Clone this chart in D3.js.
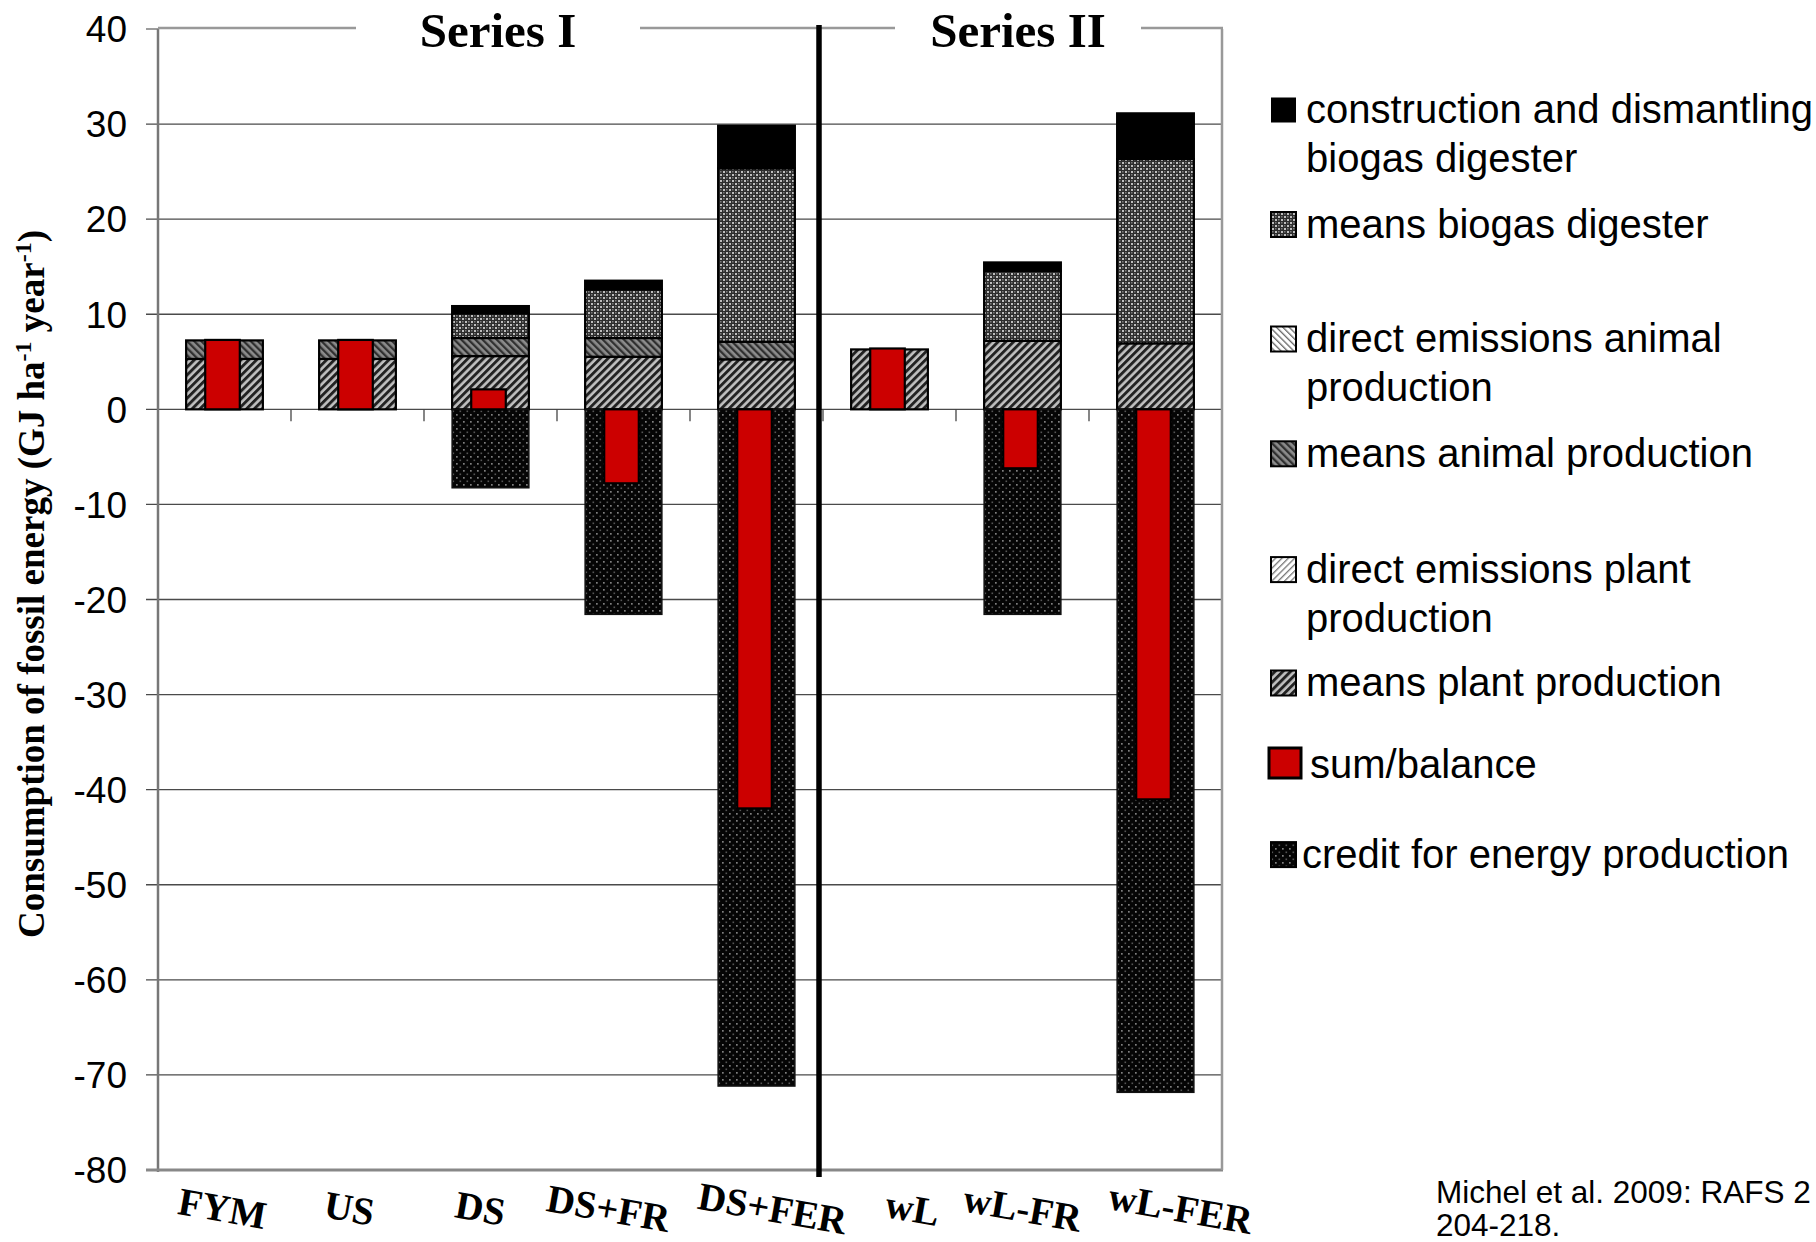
<!DOCTYPE html>
<html><head><meta charset="utf-8">
<script src="https://cdn.jsdelivr.net/npm/d3@7"></script>
<style>body{margin:0;background:#fff;} svg{display:block}</style>
</head><body><svg id="c" width="1816" height="1242"></svg>
<script>
// ---------- data ----------
const categories   = ["FYM","US","DS","DS+FR","DS+FER","wL","wL-FR","wL-FER"];
const meansPlant   = [5.3, 5.3, 5.6, 5.53, 5.26, 6.3, 7.2, 6.94];
const directPlant  = [0, 0, 0, 0, 0, 0, 0, 0];
const meansAnimal  = [1.95, 1.95, 1.9, 1.97, 1.85, 0, 0, 0];
const directAnimal = [0, 0, 0, 0, 0, 0, 0, 0];
const meansBiogas  = [0, 0, 2.6, 5.12, 18.24, 0, 7.37, 19.39];
const construction = [0, 0, 0.76, 0.91, 4.48, 0, 0.88, 4.8];
const credit       = [0, 0, -8.25, -21.56, -71.17, 0, -21.56, -71.83];
const sumBalance   = [7.3, 7.3, 2.1, -7.78, -41.97, 6.4, -6.2, -41.02];
const yTicks       = [-80,-70,-60,-50,-40,-30,-20,-10,0,10,20,30,40];
const seriesTitles = ["Series I", "Series II"];
const legendLabels = [
  ["construction and dismantling","biogas digester"],
  ["means biogas digester"],
  ["direct emissions animal","production"],
  ["means animal production"],
  ["direct emissions plant","production"],
  ["means plant production"],
  ["sum/balance"],
  ["credit for energy production"]
];
const sourceLines = ["Michel et al. 2009: RAFS 2", "204-218."];
const legendKeys = ["construction","meansBiogas","directAnimal","meansAnimal","directPlant","meansPlant","sum","credit"];
const stackKeys = ["meansPlant","directPlant","meansAnimal","directAnimal","meansBiogas","construction","credit"];

const table = categories.map((c,i)=>({cat:c, meansPlant:meansPlant[i], directPlant:directPlant[i],
  meansAnimal:meansAnimal[i], directAnimal:directAnimal[i], meansBiogas:meansBiogas[i],
  construction:construction[i], credit:credit[i], sum:sumBalance[i]}));

// ---------- layout ----------
const W=1816,H=1242;
const plotL=158, plotR=1222, plotT=29, plotB=1170;
const labelNudge=[-2,-8,-10,-15,16,23,0,25];   // word-art label placement offsets (px)
const svg=d3.select("#c");
svg.append("rect").attr("width",W).attr("height",H).attr("fill","#fff");

const x=d3.scaleBand().domain(categories).range([plotL,plotR]).paddingInner(0.423).paddingOuter(0.2115);
const y=d3.scaleLinear().domain([-80,40]).range([plotB,plotT]);
const step=x.step(), bw=x.bandwidth();

// ---------- patterns ----------
const defs=svg.append("defs");
function stripes(id,bg,fg,sw,size,angle){
  const p=defs.append("pattern").attr("id",id).attr("patternUnits","userSpaceOnUse")
    .attr("width",size).attr("height",size).attr("patternTransform",`rotate(${angle})`);
  p.append("rect").attr("width",size).attr("height",size).attr("fill",bg);
  p.append("rect").attr("width",sw).attr("height",size).attr("fill",fg);
}
stripes("pMeansPlant","#c0c0c0","#222",2.9,5.5,45);
stripes("pMeansAnimal","#8c8c8c","#303030",2.3,5,-45);
stripes("pDirectPlant","#ffffff","#777",1.3,4.5,45);
stripes("pDirectAnimal","#ffffff","#666",1.3,4.5,-45);
{
  const p=defs.append("pattern").attr("id","pBiogas").attr("patternUnits","userSpaceOnUse").attr("width",6).attr("height",6);
  p.append("rect").attr("width",6).attr("height",6).attr("fill","#2c2c2c");
  p.append("rect").attr("x",0).attr("y",0).attr("width",2).attr("height",2).attr("fill","#bdbdbd");
  p.append("rect").attr("x",3).attr("y",3).attr("width",2).attr("height",2).attr("fill","#bdbdbd");
  p.append("rect").attr("x",3).attr("y",0).attr("width",1.5).attr("height",1.5).attr("fill","#7a7a7a");
  p.append("rect").attr("x",0).attr("y",3).attr("width",1.5).attr("height",1.5).attr("fill","#7a7a7a");
}
{
  const p=defs.append("pattern").attr("id","pCredit").attr("patternUnits","userSpaceOnUse").attr("width",7).attr("height",7);
  p.append("rect").attr("width",7).attr("height",7).attr("fill","#050505");
  p.append("rect").attr("x",1).attr("y",1).attr("width",1.7).attr("height",1.7).attr("fill","#808080");
  p.append("rect").attr("x",4.5).attr("y",4.5).attr("width",1.6).attr("height",1.6).attr("fill","#555");
}
const fills={meansPlant:"url(#pMeansPlant)",directPlant:"url(#pDirectPlant)",meansAnimal:"url(#pMeansAnimal)",
  directAnimal:"url(#pDirectAnimal)",meansBiogas:"url(#pBiogas)",construction:"#000",credit:"url(#pCredit)",sum:"#cc0000"};

// ---------- grid & axes ----------
const grid=svg.append("g");
grid.selectAll("line").data(yTicks.filter(t=>t>-80&&t<40)).join("line")
  .attr("x1",plotL-12).attr("x2",plotR).attr("y1",d=>y(d)).attr("y2",d=>y(d))
  .attr("stroke","#4a4a4a").attr("stroke-width",1.3);
grid.selectAll("line.e").data([40,-80]).join("line").attr("class","e")
  .attr("x1",plotL-12).attr("x2",plotL).attr("y1",d=>y(d)).attr("y2",d=>y(d))
  .attr("stroke","#666").attr("stroke-width",1.3);

// y tick labels
svg.append("g").selectAll("text").data(yTicks).join("text")
  .attr("x",127).attr("y",d=>y(d)).attr("dy","0.36em").attr("text-anchor","end")
  .attr("font-family","Liberation Sans, Arial, sans-serif").attr("font-size",37).attr("fill","#000")
  .text(d=>d);

// category ticks on zero line
const edges=categories.slice(1).map(c=>x(c)-step*x.paddingInner()/2).concat([plotR]);
svg.append("g").selectAll("line").data(edges).join("line")
  .attr("x1",d=>d).attr("x2",d=>d).attr("y1",y(0)).attr("y2",y(0)+12)
  .attr("stroke","#444").attr("stroke-width",1.3);

// ---------- bars ----------
const stack=d3.stack().keys(stackKeys).offset(d3.stackOffsetDiverging)(table);
const gBars=svg.append("g");
stack.forEach(layer=>{
  gBars.append("g").selectAll("rect").data(layer.filter(d=>Math.abs(d[1]-d[0])>1e-9)).join("rect")
    .attr("x",d=>x(d.data.cat)).attr("width",bw)
    .attr("y",d=>y(Math.max(d[0],d[1]))).attr("height",d=>Math.abs(y(d[0])-y(d[1])))
    .attr("fill",fills[layer.key])
    .attr("stroke",layer.key==="credit"?"#111":"#000").attr("stroke-width",layer.key==="credit"?1.5:2.2);
});
const redW=step*0.26;
gBars.append("g").selectAll("rect").data(table).join("rect")
  .attr("x",d=>x(d.cat)+bw/2-redW/2-2).attr("width",redW)
  .attr("y",d=>y(Math.max(0,d.sum))).attr("height",d=>Math.abs(y(0)-y(d.sum)))
  .attr("fill",fills.sum).attr("stroke","#000").attr("stroke-width",2.2);

// ---------- frame ----------
const frame=svg.append("g").attr("fill","none");
frame.append("line").attr("x1",plotL).attr("x2",plotL).attr("y1",plotT).attr("y2",plotB+2).attr("stroke","#777").attr("stroke-width",2.5);
frame.append("line").attr("x1",plotL-12).attr("x2",plotR+1).attr("y1",plotB).attr("y2",plotB).attr("stroke","#888").attr("stroke-width",2.8);
frame.append("line").attr("x1",plotR).attr("x2",plotR).attr("y1",plotT).attr("y2",plotB).attr("stroke","#999").attr("stroke-width",2.5);

// divider between series
const divX=(x("DS+FER")+bw+x("wL"))/2-4;
svg.append("line").attr("x1",divX).attr("x2",divX).attr("y1",25).attr("y2",1177)
  .attr("stroke","#000").attr("stroke-width",5.5);

// top border with gaps for titles
const titleCenters=[498,1018], titleHalfGap=[142,123];
const segs=[[plotL,titleCenters[0]-titleHalfGap[0]],[titleCenters[0]+titleHalfGap[0],titleCenters[1]-titleHalfGap[1]],[titleCenters[1]+titleHalfGap[1],plotR+1]];
frame.selectAll("line.top").data(segs).join("line").attr("class","top")
  .attr("x1",d=>d[0]).attr("x2",d=>d[1]).attr("y1",plotT-1).attr("y2",plotT-1)
  .attr("stroke","#999").attr("stroke-width",2.5);
svg.append("g").selectAll("text").data(seriesTitles).join("text")
  .attr("x",(d,i)=>titleCenters[i]).attr("y",47).attr("text-anchor","middle")
  .attr("font-family","Liberation Serif, Times New Roman, serif").attr("font-weight","bold").attr("font-size",49)
  .text(d=>d);

// ---------- x labels ----------
svg.append("g").selectAll("text").data(categories).join("text")
  .attr("transform",(d,i)=>`translate(${x(d)+bw/2+labelNudge[i]},${1208}) rotate(10)`)
  .attr("text-anchor","middle").attr("dy","0.35em")
  .attr("font-family","Liberation Serif, Times New Roman, serif").attr("font-weight","bold").attr("font-size",39)
  .text(d=>d);

// ---------- y axis title ----------
const yt=svg.append("text").attr("transform","translate(44,584) rotate(-90)").attr("text-anchor","middle")
  .attr("font-family","Liberation Serif, Times New Roman, serif").attr("font-weight","bold").attr("font-size",37);
yt.append("tspan").text("Consumption of fossil energy (GJ ha");
yt.append("tspan").attr("font-size",24).attr("dy",-13).text("-1");
yt.append("tspan").attr("dy",13).text(" year");
yt.append("tspan").attr("font-size",24).attr("dy",-13).text("-1");
yt.append("tspan").attr("dy",13).text(")");

// ---------- legend ----------
const legendY=[109,223.5,338,452.8,568.6,682,764,853.6];
const lg=svg.append("g");
legendKeys.forEach((k,i)=>{
  const big=k==="sum";
  const sw=big?32:25, sx=big?1269:1271;
  lg.append("rect").attr("x",sx).attr("y",legendY[i]-sw/2+(big?0:1)).attr("width",sw).attr("height",big?30:25)
    .attr("fill",fills[k]).attr("stroke",k==="construction"?"none":"#000").attr("stroke-width",big?3:2);
  const tx=big?1310:(k==="credit"?1302:1306);
  const t=lg.append("text").attr("x",tx).attr("y",legendY[i]+14)
    .attr("font-family","Liberation Sans, Arial, sans-serif").attr("font-size",40).attr("fill","#000");
  legendLabels[i].forEach((line,j)=>{
    t.append("tspan").attr("x",tx).attr("dy",j===0?0:49).text(line);
  });
});

// ---------- source ----------
const src=svg.append("text").attr("font-family","Liberation Sans, Arial, sans-serif").attr("font-size",31.5).attr("fill","#000");
sourceLines.forEach((l,i)=>src.append("tspan").attr("x",1436).attr("y",1203+i*33).text(l));
</script></body></html>
